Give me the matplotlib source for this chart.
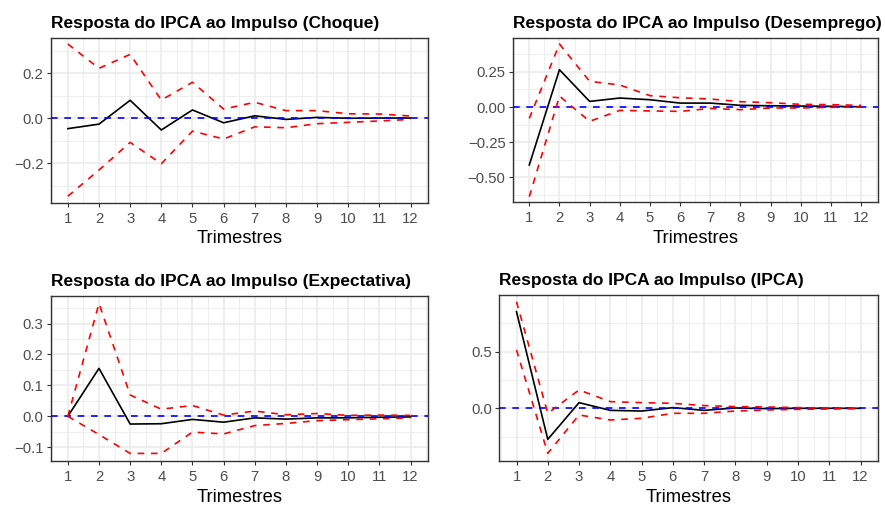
import matplotlib
matplotlib.use("Agg")
import matplotlib.pyplot as plt
import numpy as np

plt.rcParams['font.family'] = ['Liberation Sans', 'DejaVu Sans']

periods = list(range(1, 13))

titles = [
    "Resposta do IPCA ao Impulso (Choque)",
    "Resposta do IPCA ao Impulso (Desemprego)",
    "Resposta do IPCA ao Impulso (Expectativa)",
    "Resposta do IPCA ao Impulso (IPCA)",
]

choque_irf = [-0.047, -0.027, 0.079, -0.053, 0.036, -0.021, 0.010, -0.006, 0.003, -0.001, 0.000, 0.000]
choque_upper = [0.329, 0.221, 0.283, 0.080, 0.159, 0.040, 0.070, 0.033, 0.033, 0.019, 0.018, 0.009]
choque_lower = [-0.347, -0.231, -0.108, -0.203, -0.058, -0.093, -0.039, -0.043, -0.025, -0.019, -0.013, -0.006]

desemp_irf = [-0.413, 0.266, 0.040, 0.064, 0.052, 0.028, 0.028, 0.012, 0.009, 0.007, 0.005, 0.002]
desemp_upper = [-0.081, 0.449, 0.183, 0.157, 0.081, 0.066, 0.057, 0.038, 0.031, 0.019, 0.017, 0.012]
desemp_lower = [-0.639, 0.078, -0.102, -0.024, -0.028, -0.031, -0.010, -0.019, -0.007, -0.007, -0.002, 0.000]

expect_irf = [0.000, 0.155, -0.025, -0.024, -0.010, -0.019, -0.005, -0.009, -0.005, -0.005, -0.003, -0.002]
expect_upper = [0.000, 0.365, 0.069, 0.023, 0.035, 0.004, 0.017, 0.005, 0.009, 0.003, 0.004, 0.003]
expect_lower = [0.000, -0.059, -0.120, -0.120, -0.051, -0.057, -0.030, -0.023, -0.014, -0.011, -0.008, -0.005]

ipca_irf = [0.853, -0.274, 0.050, -0.018, -0.024, 0.006, -0.018, 0.003, -0.003, 0.000, 0.000, 0.000]
ipca_upper = [0.941, -0.044, 0.162, 0.059, 0.050, 0.044, 0.024, 0.015, 0.012, 0.006, 0.003, 0.000]
ipca_lower = [0.515, -0.397, -0.059, -0.103, -0.088, -0.044, -0.044, -0.024, -0.015, -0.009, -0.006, -0.003]

series = [
    (choque_irf, choque_upper, choque_lower),
    (desemp_irf, desemp_upper, desemp_lower),
    (expect_irf, expect_upper, expect_lower),
    (ipca_irf, ipca_upper, ipca_lower),
]

yticks = [
    [-0.2, 0.0, 0.2],
    [-0.50, -0.25, 0.00, 0.25],
    [-0.1, 0.0, 0.1, 0.2, 0.3],
    [0.0, 0.5],
]
yfmt = ["{:.1f}", "{:.2f}", "{:.1f}", "{:.1f}"]
ylims = [(-0.376, 0.357), (-0.679, 0.494), (-0.1445, 0.390), (-0.465, 1.0)]

W, H = 885, 507
boxes = [
    (50.7, 427.7, 37.7, 202.7),
    (512.7, 877.7, 37.7, 202.3),
    (50.7, 427.7, 295.7, 461.0),
    (499.3, 877.7, 295.0, 461.0),
]

fig = plt.figure(figsize=(W / 100, H / 100), dpi=100)
fig.patch.set_facecolor("white")

for i in range(4):
    l, r, t, b = boxes[i]
    ax = fig.add_axes([l / W, 1 - b / H, (r - l) / W, (b - t) / H])
    irf, up, lo = series[i]
    yt = yticks[i]
    step = yt[1] - yt[0]
    ymin, ymax = ylims[i]
    minors_y = np.arange(yt[0] - 3 * step / 2, ymax + step, step)
    for v in minors_y:
        if ymin < v < ymax:
            ax.axhline(v, color="#EBEBEB", lw=0.6, zorder=0)
    for v in np.arange(0.5, 13, 1.0):
        ax.axvline(v, color="#EBEBEB", lw=0.6, zorder=0)
    for v in yt:
        ax.axhline(v, color="#EBEBEB", lw=1.2, zorder=0)
    for v in periods:
        ax.axvline(v, color="#EBEBEB", lw=1.2, zorder=0)

    ax.plot(periods, irf, color="black", lw=1.2, zorder=3)
    ax.axhline(0, color="blue", lw=1.2, ls=(0, (4, 4)), zorder=4)
    ax.plot(periods, up, color="red", lw=1.2, ls=(0, (4, 4)), zorder=5)
    ax.plot(periods, lo, color="red", lw=1.2, ls=(0, (4, 4)), zorder=5)

    ax.set_xlim(0.45, 12.55)
    ax.set_ylim(ymin, ymax)
    ax.set_xticks(periods)
    ax.set_xticklabels([str(p) for p in periods])
    ax.set_yticks(yt)
    ax.set_yticklabels([yfmt[i].format(v).replace("-", "\u2212") for v in yt])
    ax.tick_params(axis="y", colors="#333333", labelcolor="#4D4D4D",
                   labelsize=10.7, length=2.9, width=0.8, pad=2.2)
    ax.tick_params(axis="x", colors="#333333", labelcolor="#4D4D4D",
                   labelsize=10.7, length=2.9, width=0.8, pad=3.5)
    for s in ax.spines.values():
        s.set_color("#333333")
        s.set_linewidth(1.0)
    ax.set_xlabel("Trimestres", fontsize=13.2, color="black", labelpad=3.5)
    ax.set_title(titles[i], fontsize=12.5, fontweight="bold", loc="left",
                 color="black", pad=7)

fig.savefig("out.png", dpi=100, facecolor="white")
